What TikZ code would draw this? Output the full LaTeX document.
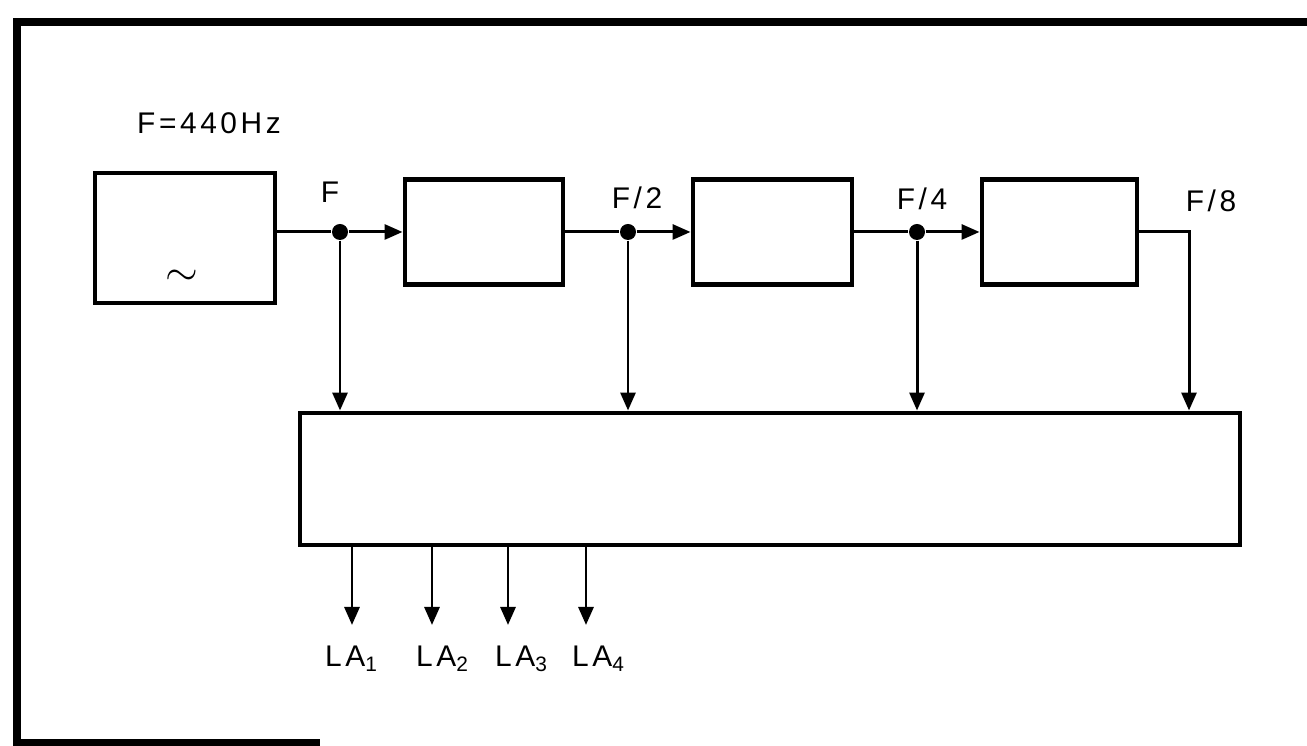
\documentclass[tikz,border=0pt]{standalone}
\usepackage{fontspec}
\setmainfont{Liberation Sans}
\newfontfamily\tagfont[LetterSpace=12]{Liberation Sans}
\usetikzlibrary{arrows.meta}
\pgfdeclarelayer{edgelayer}
\pgfdeclarelayer{nodelayer}
\pgfsetlayers{edgelayer,nodelayer,main}
\tikzstyle{frame}=[draw=black, line width=2.2pt]
\tikzstyle{block}=[rectangle, draw=black, line width=1.4pt, inner sep=0pt]
\tikzstyle{dot}=[circle, fill=black, inner sep=0pt, minimum size=0.16cm]
\tikzstyle{edge}=[draw=black, line width=0.85pt]
\tikzstyle{arrowedge}=[draw=black, line width=0.85pt, -{Triangle[length=0.18cm,width=0.15cm]}]
\tikzstyle{tag}=[font=\tagfont\fontsize{8.5}{10}\selectfont, inner sep=0pt, anchor=base]

\begin{document}
\begin{tikzpicture}
					\useasboundingbox (0,0) rectangle (13.07,-7.46);
					\draw [style=frame] (13.07,-0.22) -- (0.17,-0.22) -- (0.17,-7.43) -- (3.20,-7.43);
					\begin{pgfonlayer}{nodelayer}
						\node [style=block, minimum width=1.80cm, minimum height=1.30cm] (1) at (1.85, -2.38) {};
						\node [style=block, minimum width=1.58cm, minimum height=1.05cm] (2) at (4.84, -2.32) {};
						\node [style=block, minimum width=1.59cm, minimum height=1.05cm] (3) at (7.725, -2.32) {};
						\node [style=block, minimum width=1.55cm, minimum height=1.05cm] (4) at (10.595, -2.32) {};
						\node [style=block, minimum width=9.40cm, minimum height=1.32cm] (5) at (7.70, -4.79) {};
						\node [style=dot] (6) at (3.40, -2.32) {};
						\node [style=dot] (7) at (6.28, -2.32) {};
						\node [style=dot] (8) at (9.17, -2.32) {};
						\coordinate (9) at (11.89, -2.32);
						\coordinate (o1) at (3.52, -6.25);
						\coordinate (o2) at (4.32, -6.25);
						\coordinate (o3) at (5.08, -6.25);
						\coordinate (o4) at (5.86, -6.25);
						\node [style=tag] (10) at (2.09, -1.34) {F=440Hz};
						\node [font=\fontsize{12}{14}\selectfont, inner sep=0pt] (11) at (1.82, -2.78) {$\sim$};
						\node [style=tag] (12) at (3.30, -2.03) {F};
						\node [style=tag] (13) at (6.37, -2.09) {F/2};
						\node [style=tag] (14) at (9.22, -2.10) {F/4};
						\node [style=tag] (15) at (12.11, -2.12) {F/8};
						\node [style=tag] (16) at (3.52, -6.67) {LA\textsubscript{1}};
						\node [style=tag] (17) at (4.43, -6.67) {LA\textsubscript{2}};
						\node [style=tag] (18) at (5.22, -6.67) {LA\textsubscript{3}};
						\node [style=tag] (19) at (5.99, -6.67) {LA\textsubscript{4}};
					\end{pgfonlayer}
					\begin{pgfonlayer}{edgelayer}
						\draw [style=edge] (6 -| 1.east) to (6);
						\draw [style=arrowedge] (6) to (2);
						\draw [style=edge] (2) to (7);
						\draw [style=arrowedge] (7) to (3);
						\draw [style=edge] (3) to (8);
						\draw [style=arrowedge] (8) to (4);
						\draw [style=arrowedge] (4) -- (9) -- (9 |- 5.north);
						\draw [style=arrowedge] (6) to (6 |- 5.north);
						\draw [style=arrowedge] (7) to (7 |- 5.north);
						\draw [style=arrowedge] (8) to (8 |- 5.north);
						\draw [style=arrowedge] (o1 |- 5.south) to (o1);
						\draw [style=arrowedge] (o2 |- 5.south) to (o2);
						\draw [style=arrowedge] (o3 |- 5.south) to (o3);
						\draw [style=arrowedge] (o4 |- 5.south) to (o4);
					\end{pgfonlayer}
				\end{tikzpicture}
\end{document}
